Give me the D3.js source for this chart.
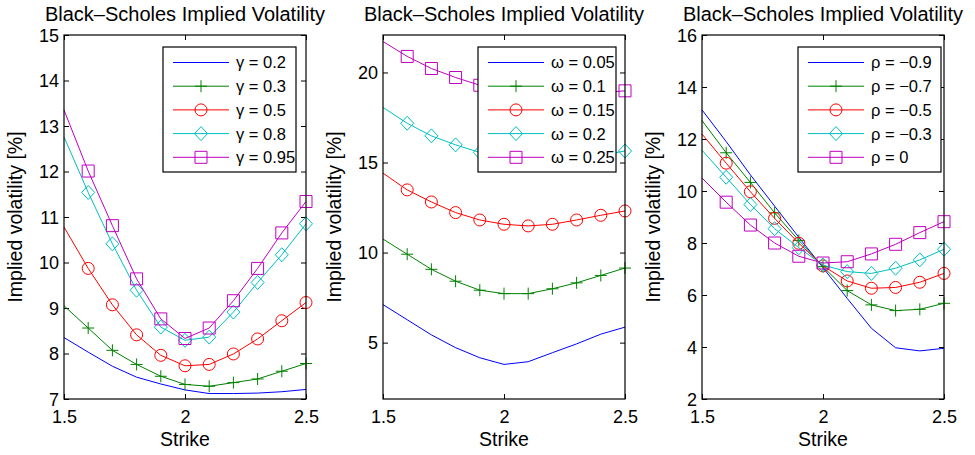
<!DOCTYPE html>
<html>
<head>
<meta charset="utf-8">
<script src="https://cdn.jsdelivr.net/npm/d3@7"></script>
<style>
  body { margin: 0; background: #fff; }
  svg { display: block; }
  text { font-family: "Liberation Sans", Arial, Helvetica, sans-serif; fill: #000; }
</style>
</head>
<body>
<svg id="chart" width="975" height="455"></svg>
<script>
// ── Data ─────────────────────────────────────────────────────────────────
const strikes = [1.5, 1.6, 1.7, 1.8, 1.9, 2.0, 2.1, 2.2, 2.3, 2.4, 2.5];
const xTicks = [1.5, 2, 2.5];

const gammaLabels = ["\u03b3 = 0.2", "\u03b3 = 0.3", "\u03b3 = 0.5", "\u03b3 = 0.8", "\u03b3 = 0.95"];
const gammaVols = [
  [8.35, 8.03, 7.72, 7.48, 7.33, 7.20, 7.12, 7.12, 7.13, 7.16, 7.21],
  [9.05, 8.56, 8.07, 7.76, 7.50, 7.32, 7.28, 7.36, 7.44, 7.61, 7.78],
  [10.78, 9.87, 9.07, 8.41, 7.96, 7.73, 7.76, 7.99, 8.32, 8.72, 9.12],
  [12.76, 11.54, 10.41, 9.39, 8.58, 8.29, 8.36, 8.91, 9.56, 10.17, 10.85],
  [13.35, 12.01, 10.81, 9.64, 8.76, 8.33, 8.56, 9.16, 9.87, 10.65, 11.34]
];
const gammaYTicks = [7, 8, 9, 10, 11, 12, 13, 14, 15];

const omegaLabels = ["\u03c9 = 0.05", "\u03c9 = 0.1", "\u03c9 = 0.15", "\u03c9 = 0.2", "\u03c9 = 0.25"];
const omegaVols = [
  [7.11, 6.27, 5.43, 4.72, 4.16, 3.79, 3.94, 4.44, 4.93, 5.47, 5.86],
  [10.75, 9.91, 9.07, 8.41, 7.91, 7.72, 7.72, 7.99, 8.32, 8.73, 9.14],
  [14.41, 13.48, 12.81, 12.22, 11.81, 11.57, 11.48, 11.57, 11.81, 12.07, 12.31],
  [18.06, 17.18, 16.48, 15.98, 15.56, 15.30, 15.20, 15.20, 15.25, 15.40, 15.64],
  [21.72, 20.89, 20.22, 19.72, 19.29, 19.02, 18.88, 18.82, 18.83, 18.88, 18.98]
];
const omegaYTicks = [5, 10, 15, 20];

const rhoLabels = ["\u03c1 = \u22120.9", "\u03c1 = \u22120.7", "\u03c1 = \u22120.5", "\u03c1 = \u22120.3", "\u03c1 = 0"];
const rhoVols = [
  [13.12, 11.90, 10.62, 9.42, 8.22, 7.05, 5.87, 4.72, 3.97, 3.85, 3.95],
  [12.71, 11.47, 10.33, 9.16, 8.10, 7.09, 6.17, 5.62, 5.40, 5.45, 5.68],
  [12.19, 11.07, 9.97, 8.95, 7.99, 7.12, 6.54, 6.26, 6.29, 6.49, 6.83],
  [11.57, 10.53, 9.48, 8.55, 7.82, 7.15, 6.90, 6.83, 7.03, 7.35, 7.76],
  [10.50, 9.57, 8.69, 8.00, 7.49, 7.23, 7.28, 7.58, 7.95, 8.40, 8.82]
];
const rhoYTicks = [2, 4, 6, 8, 10, 12, 14, 16];

const COLORS = ["#0000ff", "#008000", "#ff0000", "#00bfbf", "#bf00bf"];
const MARKERS = [null, "plus", "circle", "diamond", "square"];

// ── Layout ───────────────────────────────────────────────────────────────
const TOP = 35, BOTTOM = 399, PW = 242;
const panels = [
  { x0: 64,  yDomain: [7, 15],       yTicks: gammaYTicks, labels: gammaLabels, vols: gammaVols, legX: 99,  legW: 133 },
  { x0: 383, yDomain: [1.87, 22.08], yTicks: omegaYTicks, labels: omegaLabels, vols: omegaVols, legX: 95,  legW: 138 },
  { x0: 702, yDomain: [2, 16],       yTicks: rhoYTicks,   labels: rhoLabels,   vols: rhoVols,   legX: 96,  legW: 143 }
];

const svg = d3.select("#chart");

function markerPath(type) {
  switch (type) {
    case "plus":    return "M-6,0H6M0,-6V6";
    case "circle":  return "M6,0A6,6 0 1,1 -6,0A6,6 0 1,1 6,0Z";
    case "diamond": return "M0,-7L6.5,0L0,7L-6.5,0Z";
    case "square":  return "M-6,-6H6V6H-6Z";
  }
  return null;
}

panels.forEach(p => {
  const x = d3.scaleLinear().domain([1.5, 2.5]).range([p.x0, p.x0 + PW]);
  const y = d3.scaleLinear().domain(p.yDomain).range([BOTTOM, TOP]);
  const g = svg.append("g");

  // Axes with inward ticks (MATLAB style box)
  const fmt = d => String(d);
  g.append("g").attr("transform", `translate(0,${BOTTOM})`)
    .call(d3.axisBottom(x).tickValues(xTicks).tickSize(-5).tickFormat(fmt))
    .call(a => a.select(".domain").remove())
    .call(a => a.selectAll("text").attr("dy", null).attr("y", 24)
      .style("font-size", "18px").style("font-family", "Liberation Sans, Arial, sans-serif"));
  g.append("g").attr("transform", `translate(0,${TOP})`)
    .call(d3.axisTop(x).tickValues(xTicks).tickSize(-5).tickFormat(""))
    .call(a => a.select(".domain").remove());
  g.append("g").attr("transform", `translate(${p.x0},0)`)
    .call(d3.axisLeft(y).tickValues(p.yTicks).tickSize(-5).tickFormat(fmt))
    .call(a => a.select(".domain").remove())
    .call(a => a.selectAll("text").attr("x", -5).attr("dy", "0.34em")
      .style("font-size", "18px").style("font-family", "Liberation Sans, Arial, sans-serif"));
  g.append("g").attr("transform", `translate(${p.x0 + PW},0)`)
    .call(d3.axisRight(y).tickValues(p.yTicks).tickSize(-5).tickFormat(""))
    .call(a => a.select(".domain").remove());
  g.selectAll(".tick line").attr("stroke", "#000");

  // Series
  const line = d3.line().x((d, i) => x(strikes[i])).y(d => y(d));
  p.vols.forEach((vals, s) => {
    g.append("path").attr("d", line(vals))
      .attr("fill", "none").attr("stroke", COLORS[s]).attr("stroke-width", 1);
    if (MARKERS[s]) {
      g.selectAll(null).data(vals.slice(1)).join("path")
        .attr("transform", (d, i) => `translate(${x(strikes[i + 1])},${y(d)})`)
        .attr("d", markerPath(MARKERS[s]))
        .attr("fill", "none").attr("stroke", COLORS[s]).attr("stroke-width", 1);
    }
  });

  // Frame
  g.append("rect").attr("x", p.x0).attr("y", TOP).attr("width", PW).attr("height", BOTTOM - TOP)
    .attr("fill", "none").attr("stroke", "#000").attr("stroke-width", 1.2);

  // Legend
  const lg = g.append("g").attr("transform", `translate(${p.x0 + p.legX},47)`);
  lg.append("rect").attr("width", p.legW).attr("height", 125)
    .attr("fill", "#fff").attr("stroke", "#000").attr("stroke-width", 1.2);
  p.labels.forEach((lab, s) => {
    const cy = 15.5 + s * 23.7;
    lg.append("line").attr("x1", 10).attr("x2", 66).attr("y1", cy).attr("y2", cy)
      .attr("stroke", COLORS[s]).attr("stroke-width", 1);
    if (MARKERS[s]) {
      lg.append("path").attr("transform", `translate(38,${cy})`).attr("d", markerPath(MARKERS[s]))
        .attr("fill", "none").attr("stroke", COLORS[s]).attr("stroke-width", 1);
    }
    lg.append("text").attr("x", 73).attr("y", cy).attr("dy", "0.36em")
      .style("font-size", "16.5px").text(lab);
  });

  // Titles and axis labels
  svg.append("text").attr("x", p.x0 + PW / 2).attr("y", 21).attr("text-anchor", "middle")
    .style("font-size", "20px").text("Black\u2013Scholes Implied Volatility");
  svg.append("text").attr("x", p.x0 + PW / 2).attr("y", 446).attr("text-anchor", "middle")
    .style("font-size", "19.5px").text("Strike");
  svg.append("text").attr("transform", `translate(${p.x0 - 42},${(TOP + BOTTOM) / 2}) rotate(-90)`)
    .attr("text-anchor", "middle").style("font-size", "19.5px").text("Implied volatility [%]");
});
</script>
</body>
</html>
